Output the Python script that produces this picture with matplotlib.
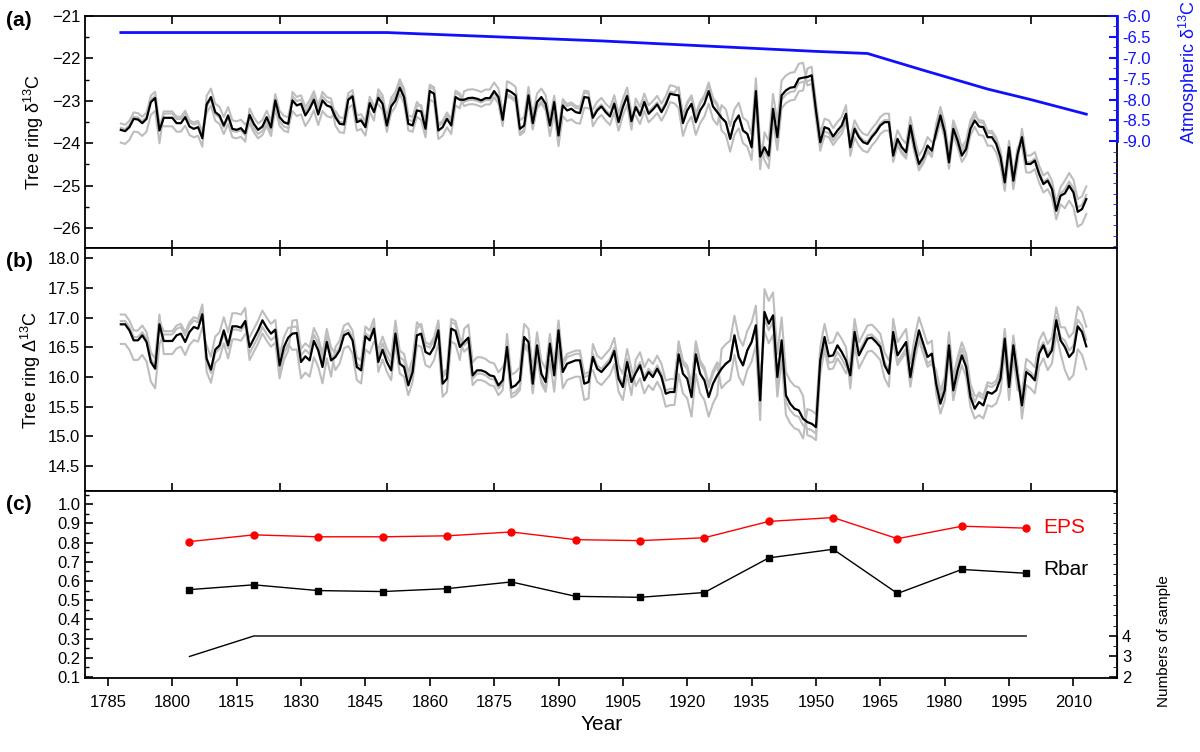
import numpy as np
from matplotlib import pyplot as plt
from matplotlib.ticker import MultipleLocator

plt.rcParams['font.family'] = ['Liberation Sans', 'DejaVu Sans']
plt.rcParams['mathtext.fontset'] = 'custom'
plt.rcParams['mathtext.rm'] = 'Liberation Sans'

years = np.arange(1788, 2014)

# panel (a): mean tree-ring d13C, read as pixel rows of the zoomed crops (converted below)
a_px = [388, 392, 380, 355, 357, 368, 355, 305, 293, 390, 352, 352, 352, 368, 368, 350, 378, 385, 380, 413,
        312, 290, 335, 345, 375, 345, 385, 388, 383, 398, 343, 370, 388, 378, 350, 381, 300, 350, 365, 370,
        300, 315, 310, 345, 325, 298, 342, 300, 315, 320, 350, 370, 372, 298, 288, 365, 360, 380, 308, 335,
        292, 310, 375, 318, 300, 262, 290, 370, 375, 330, 333, 385, 272, 280, 390, 380, 355, 375, 290, 298,
        298, 293, 292, 295,
        300, 293, 293, 272, 290, 358, 268, 275, 285, 385, 375, 285, 368, 305, 290, 310, 375, 305, 405, 315,
        330, 325, 335, 338, 290, 292, 352, 330, 318, 335, 348, 310, 365, 320, 287, 362, 320, 345, 305, 340,
        327, 312, 335, 312, 280, 283, 285, 368, 330, 310,
        365, 330, 310, 272, 318, 335, 352, 365, 415, 365, 345, 390, 400, 440, 272, 468, 440, 465, 325, 410,
        285, 270, 262, 260, 235, 232, 230, 225, 330, 425, 380, 385, 408, 390, 375, 340, 440, 385, 410, 425, 430,
        410, 395, 375, 365, 365, 465, 415, 440, 455, 375, 440, 490, 470, 435, 450, 395, 345, 395, 485, 385,
        420, 465, 445, 385, 360, 378, 380, 410, 410, 430, 470, 545, 440, 540, 460, 410, 490, 490, 480, 520,
        550, 540, 565, 630, 585, 578, 555, 575, 633, 625, 595]
d13c = -21 - (np.array(a_px, float) - 47) / 127

# panel (b): mean tree-ring discrimination
b_px = [222, 222, 240, 270, 270, 255, 275, 335, 355, 222, 272, 272, 272, 255, 250, 275, 245, 230, 235, 192,
        325, 358, 298, 285, 240, 285, 228, 228, 232, 212, 290, 265, 240, 210, 232, 250, 238, 345, 290, 262,
        250, 248, 335, 318, 330, 272, 300, 350, 275, 330, 320, 300, 255, 248, 270, 350, 360, 258, 270, 235,
        335, 298, 335, 360, 250, 340, 350, 405, 365, 255, 250, 305, 312, 290, 240, 400, 385, 235, 242, 290,
        275, 262, 375, 360,
        360, 365, 375, 378, 405, 390, 290, 412, 405, 390, 260, 275, 400, 285, 370, 395, 280, 375, 240, 365,
        340, 335, 330, 330, 400, 395, 320, 355, 365, 350, 335, 302, 385, 410, 335, 395, 368, 345, 390, 365,
        380, 355, 380, 430, 425, 425, 312, 370, 385, 440,
        312, 370, 390, 440, 400, 375, 355, 340, 330, 255, 320, 345, 300, 275, 225, 450, 185, 220, 195, 380,
        270, 435, 460, 475, 480, 505, 515, 520, 530, 330, 260, 318, 315, 285, 305, 330, 375, 245, 315, 290, 265,
        262, 275, 290, 345, 370, 245, 315, 295, 275, 380, 300, 240, 280, 320, 310, 400, 460, 420, 285, 420,
        360, 315, 350, 440, 475, 455, 465, 425, 430, 420, 385, 265, 410, 285, 380, 465, 365, 375, 390, 310,
        285, 320, 300, 210, 270, 290, 320, 305, 228, 245, 288]
big_d = 18 - (np.array(b_px, float) - 24) / 178

# per-tree decadal offsets from the mean (gray lines)
tree_off = [
    [-0.3, 0.1, -0.2, 0.15, 0.1, -0.2, 0.2, 0.1, -0.15, 0.2, 0.15, -0.2, 0.2, 0.15, -0.3, 0.35, -0.2, 0.2, -0.15, 0.1, 0.15, -0.2, -0.35],
    [0.15, -0.2, 0.2, -0.1, -0.25, 0.15, -0.15, -0.2, 0.2, -0.15, -0.25, 0.2, -0.2, -0.3, 0.3, -0.3, 0.2, -0.2, 0.2, -0.15, -0.2, 0.2, 0.3],
    [0.05, 0.15, -0.05, -0.2, 0.2, 0.05, 0.1, 0.15, -0.05, -0.1, 0.1, 0.05, 0.05, 0.2, 0.0, -0.1, -0.1, 0.05, -0.1, 0.2, 0.1, 0.05, 0.1],
]

# atmospheric d13C
atm_years = [1788, 1850, 1900, 1950, 1962, 1975, 1990, 2000, 2013]
atm_d13c = [-6.4, -6.4, -6.6, -6.85, -6.9, -7.3, -7.75, -8.0, -8.35]

# panel (c): 15-yr window statistics
win_years = [1804, 1819, 1834, 1849, 1864, 1879, 1894, 1909, 1924, 1939, 1954, 1969, 1984, 1999]
eps = [0.805, 0.84, 0.83, 0.83, 0.835, 0.855, 0.815, 0.81, 0.825, 0.91, 0.93, 0.82, 0.885, 0.875]
rbar = [0.555, 0.58, 0.55, 0.545, 0.56, 0.595, 0.52, 0.515, 0.54, 0.72, 0.765, 0.535, 0.66, 0.64]
n_years = [1804, 1819, 1999]
n_samples = [3, 4, 4]

fig = plt.figure(figsize=(12, 7.52), dpi=100)
L, W = 0.071, 0.860
axa = fig.add_axes([L, 0.670, W, 0.309])
axb = fig.add_axes([L, 0.347, W, 0.323])
axc = fig.add_axes([L, 0.0984, W, 0.2486])

for ax in (axa, axb, axc):
    ax.set_xlim(1779.7, 2020.2)
    for s in ax.spines.values():
        s.set_linewidth(1.3)
    ax.tick_params(direction='in', labelsize=12, width=1.2, length=6)
    ax.tick_params(which='minor', direction='in', width=1.0, length=3)

for ax in (axa, axb):
    ax.xaxis.set_major_locator(MultipleLocator(25))
    ax.tick_params(axis='x', labelbottom=False, top=True)

for series, ax, scale in ((d13c, axa, 1.0), (big_d, axb, 1.1)):
    for off in tree_off:
        o = np.repeat(off, 10)[:len(years)] * scale
        ax.plot(years, series + o, color='#bdbdbd', lw=1.5)
    ax.plot(years, series, color='black', lw=1.6)

axa.set_ylim(-26.47, -21)
axa.yaxis.set_major_locator(MultipleLocator(1))
axa.yaxis.set_minor_locator(MultipleLocator(0.5))
axa.set_ylabel('Tree ring δ$^{13}$C', fontsize=13)

axr = axa.twinx()
axr.plot(atm_years, atm_d13c, color='#1010ff', lw=2)
axr.set_ylim(-11.55, -6)
axr.spines['right'].set_bounds(-9, -6)
axr.spines['right'].set_color('#1010ff')
axr.spines['right'].set_linewidth(2)
axr.set_yticks(np.arange(-9, -5.9, 0.5))
axr.set_yticklabels([f'{v:.1f}' for v in np.arange(-9, -5.9, 0.5)])
axr.yaxis.set_minor_locator(MultipleLocator(0.25))
axr.tick_params(axis='y', colors='#1010ff', labelsize=12, direction='in', length=6, width=1.5)
axr.tick_params(axis='y', which='minor', colors='#1010ff', direction='in', length=3)
axr.set_ylabel('Atmospheric δ$^{13}$C', color='#1010ff', fontsize=13)
axr.yaxis.set_label_coords(1.058, 0.76)
for s in ('top', 'left', 'bottom'):
    axr.spines[s].set_visible(False)

axb.set_ylim(14.08, 18.17)
axb.set_yticks(np.arange(14.5, 18.01, 0.5))
axb.set_yticklabels([f'{v:.1f}' for v in np.arange(14.5, 18.01, 0.5)])
axb.set_ylabel('Tree ring Δ$^{13}$C', fontsize=13)

axc.plot(win_years, eps, color='red', lw=1, marker='o', ms=5)
axc.plot(win_years, rbar, color='black', lw=1, marker='s', ms=5)
axc.text(2003, 0.88, 'EPS', color='red', fontsize=15, va='center')
axc.text(2003, 0.66, 'Rbar', color='black', fontsize=15, va='center')
axc.set_ylim(0.095, 1.068)
axc.set_yticks(np.arange(0.1, 1.01, 0.1))
axc.set_yticklabels([f'{v:.1f}' for v in np.arange(0.1, 1.01, 0.1)])
axc.yaxis.set_minor_locator(MultipleLocator(0.05))
axc.set_xticks(np.arange(1785, 2011, 15))
axc.tick_params(axis='x', direction='out', pad=6)
axc.set_xlabel('Year', fontsize=15)

axn = axc.twinx()
axn.plot(n_years, n_samples, color='black', lw=1)
axn.set_ylim(1.95, 11.07)
axn.spines['right'].set_bounds(2, 4)
axn.set_yticks([2, 3, 4])
axn.yaxis.set_minor_locator(MultipleLocator(0.5))
axn.tick_params(axis='y', direction='in', labelsize=12, length=6, width=1.2)
axn.tick_params(axis='y', which='minor', direction='in', length=3)
for s in ('top', 'left', 'bottom'):
    axn.spines[s].set_visible(False)
axn.text(1.045, 0.2, 'Numbers of sample', transform=axn.transAxes, rotation=90,
         va='center', ha='center', fontsize=11)

fig.text(0.005, 0.965, '(a)', fontsize=15, fontweight='bold')
fig.text(0.005, 0.645, '(b)', fontsize=15, fontweight='bold')
fig.text(0.005, 0.322, '(c)', fontsize=15, fontweight='bold')

fig.savefig('out.png', dpi=100)
